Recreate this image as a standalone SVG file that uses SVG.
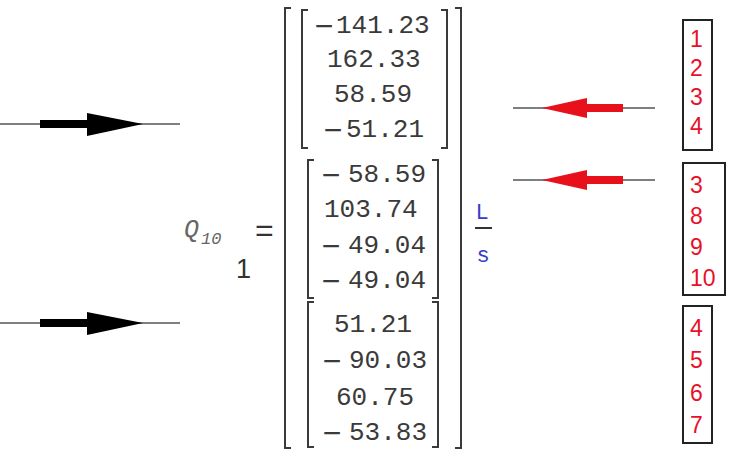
<svg xmlns="http://www.w3.org/2000/svg" width="729" height="456" viewBox="0 0 729 456">
<style>
.num{font-family:"Liberation Mono","DejaVu Sans Mono",monospace;font-size:26px;fill:#3a3a3a}
.mn{font-family:"Liberation Sans",Arial,sans-serif;font-size:32px;fill:#3a3a3a;text-anchor:middle}
.br{fill:none;stroke:#3a3a3a;stroke-width:2}
.thin{stroke:#555;stroke-width:1.5}
.lbl{font-family:"Liberation Sans",Arial,sans-serif;font-size:23px;fill:#e8102a}
.box{fill:none;stroke:#222;stroke-width:2}
.unit{font-family:"Liberation Mono",monospace;font-size:22px;fill:#3a3ac8;text-anchor:middle}
</style>
<rect width="729" height="456" fill="#fff"/>
<g id="connectors">
<line class="thin" x1="0" y1="124" x2="180" y2="124"/>
<rect x="40" y="120" width="48" height="8" fill="#000"/>
<polygon points="87,113 143,124 87,136" fill="#000"/>
<line class="thin" x1="0" y1="323" x2="180" y2="323"/>
<rect x="40" y="319" width="48" height="8" fill="#000"/>
<polygon points="87,312 143,323 87,335" fill="#000"/>
<line class="thin" x1="513" y1="108" x2="655" y2="108"/>
<rect x="586" y="104" width="37" height="8" fill="#e8101a"/>
<polygon points="587,98 542,108 587,118" fill="#e8101a"/>
<line class="thin" x1="513" y1="180" x2="655" y2="180"/>
<rect x="586" y="176" width="37" height="8" fill="#e8101a"/>
<polygon points="587,170 542,180 587,190" fill="#e8101a"/>
</g>
<g id="lhs">
<text x="184" y="237" font-family="Liberation Mono,monospace" font-style="italic" font-size="25" fill="#666">Q</text>
<text x="201" y="244" font-family="Liberation Mono,monospace" font-style="italic" font-size="17" fill="#666">10</text>
<text x="236" y="278" font-family="Liberation Sans,Arial,sans-serif" font-size="27" fill="#333">1</text>
<text x="255" y="241" font-family="Liberation Sans,Arial,sans-serif" font-size="32" fill="#333">=</text>
</g>
<g id="matrix">
<path class="br" d="M291,8 H285 V448 H291"/>
<path class="br" d="M455,8 H461 V448 H455"/>
<path class="br" d="M308,10 H302 V148 H308"/>
<path class="br" d="M441,10 H447 V148 H441"/>
<path class="br" d="M314,160 H308 V298 H314"/>
<path class="br" d="M432,160 H438 V298 H432"/>
<path class="br" d="M314,302 H308 V447 H314"/>
<path class="br" d="M432,302 H438 V447 H432"/>
<text class="mn" x="324" y="37">−</text><text class="num" x="336" y="33">141.23</text>
<text class="num" x="327" y="67">162.33</text>
<text class="num" x="334" y="102">58.59</text>
<text class="mn" x="333" y="141">−</text><text class="num" x="346" y="137">51.21</text>
<text class="mn" x="331" y="186">−</text><text class="num" x="348" y="182">58.59</text>
<text class="num" x="324" y="217">103.74</text>
<text class="mn" x="331" y="257">−</text><text class="num" x="348" y="253">49.04</text>
<text class="mn" x="331" y="292">−</text><text class="num" x="348" y="288">49.04</text>
<text class="num" x="334" y="332">51.21</text>
<text class="mn" x="332" y="372">−</text><text class="num" x="349" y="368">90.03</text>
<text class="num" x="336" y="405">60.75</text>
<text class="mn" x="332" y="444">−</text><text class="num" x="349" y="440">53.83</text>
</g>
<g id="unit">
<text class="unit" x="482" y="219">L</text>
<line x1="475" y1="228" x2="492" y2="228" stroke="#333" stroke-width="2"/>
<text class="unit" x="483" y="262">s</text>
</g>
<g id="box1">
<rect class="box" x="683" y="20" width="29" height="130"/>
<text class="lbl" x="690" y="47">1</text>
<text class="lbl" x="690" y="76">2</text>
<text class="lbl" x="690" y="105">3</text>
<text class="lbl" x="690" y="134">4</text>
</g>
<g id="box2">
<rect class="box" x="683" y="163" width="42" height="132"/>
<text class="lbl" x="690" y="193">3</text>
<text class="lbl" x="690" y="224">8</text>
<text class="lbl" x="690" y="255">9</text>
<text class="lbl" x="690" y="286">10</text>
</g>
<g id="box3">
<rect class="box" x="683" y="306" width="29" height="137"/>
<text class="lbl" x="690" y="336">4</text>
<text class="lbl" x="690" y="368">5</text>
<text class="lbl" x="690" y="401">6</text>
<text class="lbl" x="690" y="433">7</text>
</g>
</svg>
